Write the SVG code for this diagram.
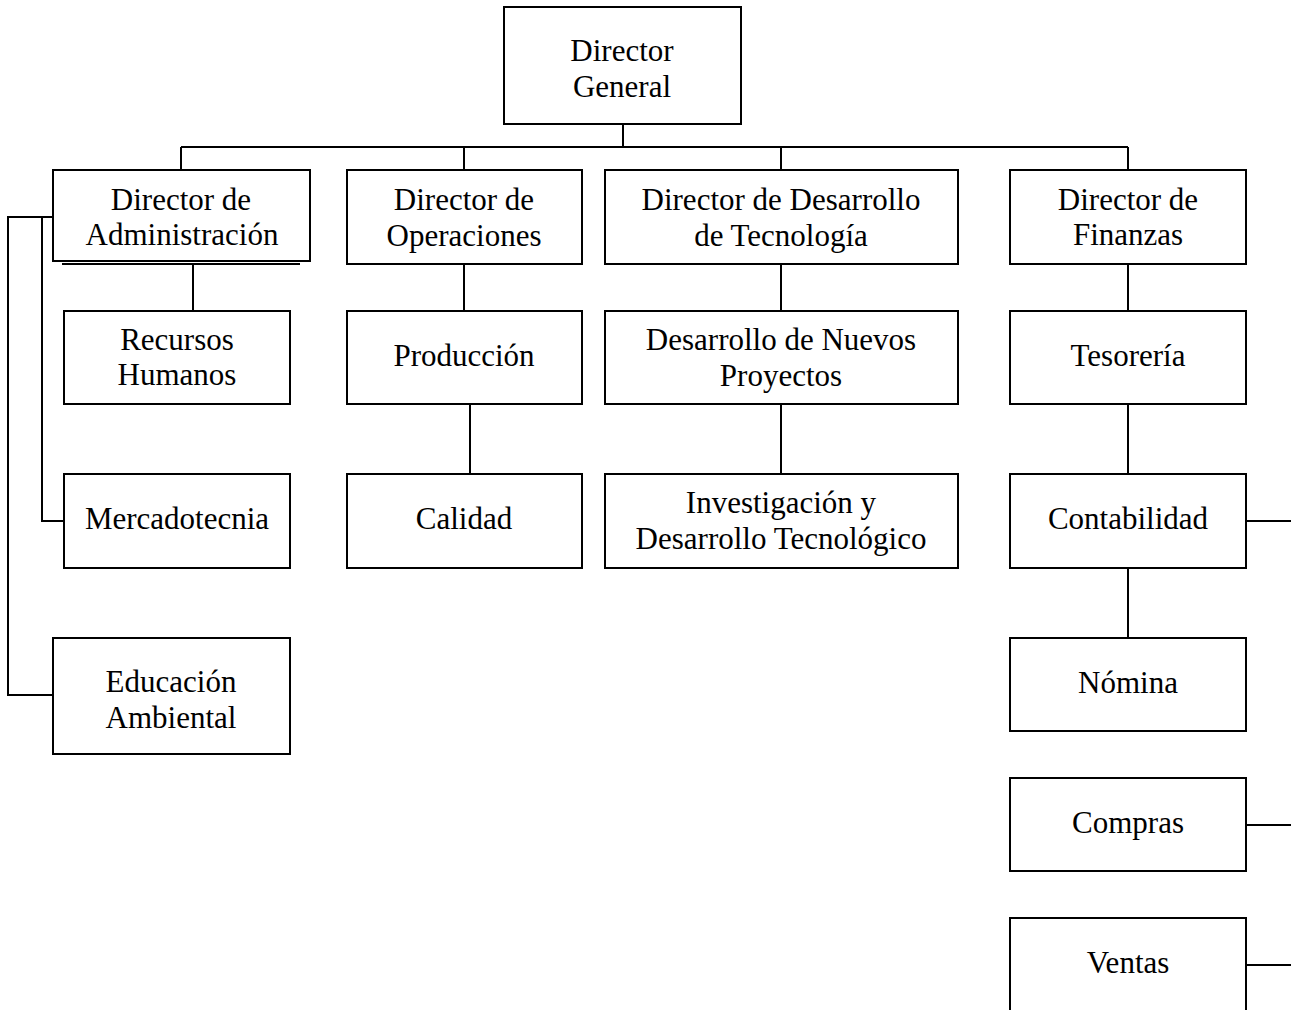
<svg xmlns="http://www.w3.org/2000/svg" width="1291" height="1010" viewBox="0 0 1291 1010">
<style>
rect{fill:#fff;stroke:#000;stroke-width:2}
line,polyline{fill:none;stroke:#000;stroke-width:2}
text{font-family:"Liberation Serif","Times New Roman",serif;font-size:31px;fill:#000;text-anchor:middle}
</style>
<rect x="0" y="0" width="1291" height="1010" style="stroke:none"/>
<g id="connectors">
<line x1="623" y1="124" x2="623" y2="147"/>
<line x1="181" y1="147" x2="1128" y2="147"/>
<line x1="181" y1="147" x2="181" y2="170"/>
<line x1="464" y1="147" x2="464" y2="170"/>
<line x1="781" y1="147" x2="781" y2="170"/>
<line x1="1128" y1="147" x2="1128" y2="170"/>
<line x1="193" y1="264" x2="193" y2="311"/>
<polyline points="53,217 8,217 8,695 53,695"/>
<polyline points="42,217 42,521 64,521"/>
<line x1="464" y1="264" x2="464" y2="311"/>
<line x1="470" y1="404" x2="470" y2="474"/>
<line x1="781" y1="264" x2="781" y2="311"/>
<line x1="781" y1="404" x2="781" y2="474"/>
<line x1="1128" y1="264" x2="1128" y2="311"/>
<line x1="1128" y1="404" x2="1128" y2="474"/>
<line x1="1128" y1="568" x2="1128" y2="638"/>
<line x1="1246" y1="521" x2="1291" y2="521"/>
<line x1="1246" y1="825" x2="1291" y2="825"/>
<line x1="1246" y1="965" x2="1291" y2="965"/>
</g>
<g id="director-general"><rect x="504" y="7" width="237" height="117"/><text x="622" y="61">Director</text><text x="622" y="97">General</text></g>
<g id="dir-admin"><rect x="53" y="170" width="257" height="91"/><line x1="62" y1="264" x2="300" y2="264"/><text x="181" y="210">Director de</text><text x="182" y="245">Administración</text></g>
<g id="dir-operaciones"><rect x="347" y="170" width="235" height="94"/><text x="464" y="210">Director de</text><text x="464" y="246">Operaciones</text></g>
<g id="dir-tecnologia"><rect x="605" y="170" width="353" height="94"/><text x="781" y="210">Director de Desarrollo</text><text x="781" y="246">de Tecnología</text></g>
<g id="dir-finanzas"><rect x="1010" y="170" width="236" height="94"/><text x="1128" y="210">Director de</text><text x="1128" y="245">Finanzas</text></g>
<g id="recursos-humanos"><rect x="64" y="311" width="226" height="93"/><text x="177" y="350">Recursos</text><text x="177" y="385">Humanos</text></g>
<g id="mercadotecnia"><rect x="64" y="474" width="226" height="94"/><text x="177" y="529">Mercadotecnia</text></g>
<g id="educacion-ambiental"><rect x="53" y="638" width="237" height="116"/><text x="171" y="692">Educación</text><text x="171" y="728">Ambiental</text></g>
<g id="produccion"><rect x="347" y="311" width="235" height="93"/><text x="464" y="366">Producción</text></g>
<g id="calidad"><rect x="347" y="474" width="235" height="94"/><text x="464" y="529">Calidad</text></g>
<g id="nuevos-proyectos"><rect x="605" y="311" width="353" height="93"/><text x="781" y="350">Desarrollo de Nuevos</text><text x="781" y="386">Proyectos</text></g>
<g id="investigacion"><rect x="605" y="474" width="353" height="94"/><text x="781" y="513">Investigación y</text><text x="781" y="549">Desarrollo Tecnológico</text></g>
<g id="tesoreria"><rect x="1010" y="311" width="236" height="93"/><text x="1128" y="366">Tesorería</text></g>
<g id="contabilidad"><rect x="1010" y="474" width="236" height="94"/><text x="1128" y="529">Contabilidad</text></g>
<g id="nomina"><rect x="1010" y="638" width="236" height="93"/><text x="1128" y="693">Nómina</text></g>
<g id="compras"><rect x="1010" y="778" width="236" height="93"/><text x="1128" y="833">Compras</text></g>
<g id="ventas"><rect x="1010" y="918" width="236" height="100"/><text x="1128" y="973">Ventas</text></g>
</svg>
